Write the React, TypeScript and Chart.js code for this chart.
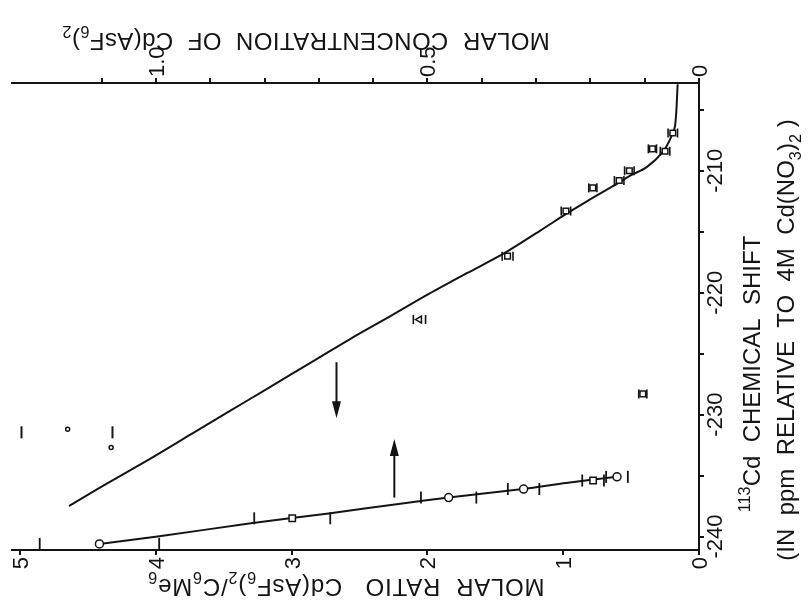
import React, { useEffect, useRef } from "react";
import { Chart, registerables } from "chart.js";
Chart.register(...registerables);

// ---- Upper curve: 113Cd shift vs molar ratio Cd(AsF6)2/C6Me6 (bottom axis) ----
const ratioCurveX = [0.157, 0.176, 0.208, 0.263, 0.385, 0.507, 0.593, 0.826, 0.973, 1.169, 1.44, 1.71, 1.99, 2.27, 2.57, 2.81, 3.2, 3.47, 3.74, 4.04, 4.4, 4.64];
const ratioCurveY = [-202.9, -206.3, -207.3, -208.4, -209.7, -210.4, -211.0, -212.5, -213.5, -214.9, -216.8, -218.4, -220.1, -221.9, -223.8, -225.4, -228.0, -229.8, -231.6, -233.6, -235.9, -237.5];

// measured points on the ratio curve (squares) with error in ratio
const ratioMarkX = [0.193, 0.25, 0.343, 0.513, 0.588, 0.782, 0.98, 1.41, 0.414];
const ratioMarkY = [-206.9, -208.4, -208.2, -210.0, -210.8, -211.4, -213.3, -217.0, -228.3];
const ratioMarkErr = [0.035, 0.035, 0.03, 0.035, 0.035, 0.03, 0.035, 0.04, 0.03];
const ratioTriX = [2.059];
const ratioTriY = [-222.2];
const ratioTriErr = [0.045];

// ---- Lower curve: shift vs molar concentration of Cd(AsF6)2 (top axis) ----
const concCurveX = [0.151, 0.245, 0.324, 0.461, 0.55, 0.682, 0.825, 0.997, 1.104];
const concCurveY = [-235.1, -235.6, -236.1, -236.8, -237.3, -238.1, -238.9, -240.0, -240.6];
const concCircleX = [0.151, 0.323, 0.461, 1.104];
const concCircleY = [-235.1, -236.1, -236.8, -240.6];
const concCircleErr = [0.02, 0.029, 0.051, 0.11];
const concSquareX = [0.195, 0.749];
const concSquareY = [-235.4, -238.5];
const concSquareErr = [0.02, 0.07];

// stray marks in the upper-left of the plot (ratio units)
const strayBarX = [4.99, 4.32];
const strayBarY = [-231.45, -231.45];
const strayDotX = [4.65, 4.33];
const strayDotY = [-231.2, -232.7];

// arrows
const arrowRatioX = [2.67];
const arrowRatioFrom = [-225.7];
const arrowRatioTo = [-230.3];
const arrowConcX = [0.561];
const arrowConcFrom = [-236.8];
const arrowConcTo = [-232.0];

// ticks / labels
const ratioTickValues = [0, 1, 2, 3, 4, 5];
const ratioTickLabels = ["0", "1", "2", "3", "4", "5"];
const concTickValues = [0, 0.5, 1.0];
const concTickLabels = ["0", "0.5", "1.0"];
const shiftTickValues = [-210, -220, -230, -240];
const shiftTickLabels = ["-210", "-220", "-230", "-240"];

const INK = "#141414";
const FONT_FAMILY = '"Liberation Sans", Arial, sans-serif';
const TICK_SIZE = 22;
const TITLE_SIZE = 24;

type Part = { t: string; sub?: boolean; sup?: boolean };

const topTitle: Part[] = [
  { t: "MOLAR  CONCENTRATION  OF  Cd(AsF" }, { t: "6", sub: true }, { t: ")" }, { t: "2", sub: true },
];
const bottomTitle: Part[] = [
  { t: "MOLAR  RATIO   Cd(AsF" }, { t: "6", sub: true }, { t: ")" }, { t: "2", sub: true },
  { t: "/C" }, { t: "6", sub: true }, { t: "Me" }, { t: "6", sub: true },
];
const rightTitle1: Part[] = [{ t: "113", sup: true }, { t: "Cd  CHEMICAL  SHIFT" }];
const rightTitle2: Part[] = [
  { t: "(IN  ppm  RELATIVE  TO  4M  Cd(NO" }, { t: "3", sub: true }, { t: ")" }, { t: "2", sub: true }, { t: " )" },
];

const font = (s: number) => `${s}px ${FONT_FAMILY}`;

function drawRich(ctx: CanvasRenderingContext2D, parts: Part[], x: number, y: number, rot: number, size: number, spacing: number) {
  ctx.save();
  ctx.translate(x, y);
  ctx.rotate(rot);
  ctx.textAlign = "left";
  ctx.textBaseline = "alphabetic";
  (ctx as any).letterSpacing = `${spacing}px`;
  let total = 0;
  for (const p of parts) {
    ctx.font = font(p.sub || p.sup ? size * 0.68 : size);
    total += ctx.measureText(p.t).width;
  }
  let cx = -total / 2;
  for (const p of parts) {
    const s = p.sub || p.sup ? size * 0.68 : size;
    ctx.font = font(s);
    const dy = p.sub ? size * 0.3 : p.sup ? -size * 0.42 : 0;
    ctx.fillText(p.t, cx, dy);
    cx += ctx.measureText(p.t).width;
  }
  ctx.restore();
}

function rotText(ctx: CanvasRenderingContext2D, text: string, x: number, y: number, rot: number, align: CanvasTextAlign) {
  ctx.save();
  ctx.translate(x, y);
  ctx.rotate(rot);
  ctx.textAlign = align;
  ctx.textBaseline = "alphabetic";
  ctx.fillText(text, 0, 0);
  ctx.restore();
}

function arrow(ctx: CanvasRenderingContext2D, x: number, y1: number, y2: number) {
  const dir = y2 > y1 ? 1 : -1;
  const head = 17;
  const half = 4.5;
  ctx.beginPath();
  ctx.moveTo(x, y1);
  ctx.lineTo(x, y2 - dir * head * 0.6);
  ctx.lineWidth = 2;
  ctx.strokeStyle = INK;
  ctx.stroke();
  ctx.beginPath();
  ctx.moveTo(x, y2);
  ctx.lineTo(x - half, y2 - dir * head);
  ctx.lineTo(x + half, y2 - dir * head);
  ctx.closePath();
  ctx.fillStyle = INK;
  ctx.fill();
}

const labelsPlugin = {
  id: "richLabels",
  afterDraw(chart: any) {
    const ctx: CanvasRenderingContext2D = chart.ctx;
    const xs = chart.scales.x;
    const x2 = chart.scales.x2;
    const ys = chart.scales.y;
    const halfCap = TICK_SIZE * 0.36;
    ctx.save();
    ctx.fillStyle = INK;
    ctx.font = font(TICK_SIZE);
    ratioTickValues.forEach((v, i) => {
      const px = xs.getPixelForValue(v);
      rotText(ctx, ratioTickLabels[i], px + halfCap, xs.top + 7, -Math.PI / 2, "right");
    });
    concTickValues.forEach((v, i) => {
      const px = x2.getPixelForValue(v);
      rotText(ctx, concTickLabels[i], px + halfCap, x2.bottom - 6, -Math.PI / 2, "left");
    });
    shiftTickValues.forEach((v, i) => {
      const py = ys.getPixelForValue(v);
      rotText(ctx, shiftTickLabels[i], ys.left + 23, py, -Math.PI / 2, "center");
    });
    // titles
    ctx.fillStyle = INK;
    drawRich(ctx, topTitle, 306, 33, Math.PI, TITLE_SIZE, 0.4);
    drawRich(ctx, bottomTitle, 346, 579, Math.PI, TITLE_SIZE, 0.8);
    drawRich(ctx, rightTitle1, 760, 374, -Math.PI / 2, TITLE_SIZE, 0);
    drawRich(ctx, rightTitle2, 794, 340, -Math.PI / 2, TITLE_SIZE, 0);
    // arrows
    arrowRatioX.forEach((v, i) => {
      arrow(ctx, xs.getPixelForValue(v), ys.getPixelForValue(arrowRatioFrom[i]), ys.getPixelForValue(arrowRatioTo[i]));
    });
    arrowConcX.forEach((v, i) => {
      arrow(ctx, x2.getPixelForValue(v), ys.getPixelForValue(arrowConcFrom[i]), ys.getPixelForValue(arrowConcTo[i]));
    });
    ctx.restore();
  },
};

const pts = (xs: number[], ys: number[]) => xs.map((x, i) => ({ x, y: ys[i] }));
const caps = (xs: number[], ys: number[], err: number[]) =>
  xs.flatMap((x, i) => [{ x: x - err[i], y: ys[i] }, { x: x + err[i], y: ys[i] }]);

export default function App() {
  const ref = useRef<HTMLCanvasElement | null>(null);
  useEffect(() => {
    if (!ref.current) return;
    const axisCommon = {
      type: "linear" as const,
      grid: { drawOnChartArea: false, drawTicks: true, tickLength: 5, color: INK, lineWidth: 2 },
      border: { display: true, color: INK, width: 2 },
    };
    const chart = new Chart(ref.current, {
      type: "scatter",
      data: {
        datasets: [
          {
            data: pts(ratioMarkX, ratioMarkY), xAxisID: "x", yAxisID: "y", order: 0,
            pointStyle: "rect", pointRadius: 4, backgroundColor: "#fff", borderColor: INK, borderWidth: 1.5,
          },
          {
            data: pts(ratioTriX, ratioTriY), xAxisID: "x", yAxisID: "y", order: 0,
            pointStyle: "triangle", rotation: 270, pointRadius: 4, backgroundColor: "#fff", borderColor: INK, borderWidth: 1.5,
          },
          {
            data: caps(ratioMarkX.concat(ratioTriX), ratioMarkY.concat(ratioTriY), ratioMarkErr.concat(ratioTriErr)),
            xAxisID: "x", yAxisID: "y", order: 0,
            pointStyle: "line", rotation: 90, pointRadius: 4.5, borderColor: INK, borderWidth: 1.6,
          },
          {
            data: pts(concCircleX, concCircleY), xAxisID: "x2", yAxisID: "y", order: 0,
            pointStyle: "circle", pointRadius: 4, backgroundColor: "#fff", borderColor: INK, borderWidth: 1.5,
          },
          {
            data: pts(concSquareX, concSquareY), xAxisID: "x2", yAxisID: "y", order: 0,
            pointStyle: "rect", pointRadius: 4.5, backgroundColor: "#fff", borderColor: INK, borderWidth: 1.5,
          },
          {
            data: caps(concCircleX.concat(concSquareX), concCircleY.concat(concSquareY), concCircleErr.concat(concSquareErr)),
            xAxisID: "x2", yAxisID: "y", order: 0,
            pointStyle: "line", rotation: 90, pointRadius: 6, borderColor: INK, borderWidth: 1.8,
          },
          {
            data: pts(strayBarX, strayBarY), xAxisID: "x", yAxisID: "y", order: 0,
            pointStyle: "line", rotation: 90, pointRadius: 6, borderColor: INK, borderWidth: 2,
          },
          {
            data: pts(strayDotX, strayDotY), xAxisID: "x", yAxisID: "y", order: 0,
            pointStyle: "circle", pointRadius: 2, backgroundColor: "#fff", borderColor: INK, borderWidth: 1.5,
          },
          {
            data: pts(ratioCurveX, ratioCurveY), xAxisID: "x", yAxisID: "y", order: 2,
            showLine: true, pointRadius: 0, borderColor: INK, borderWidth: 2, tension: 0.3, fill: false,
          },
          {
            data: pts(concCurveX, concCurveY), xAxisID: "x2", yAxisID: "y", order: 2,
            showLine: true, pointRadius: 0, borderColor: INK, borderWidth: 2, tension: 0.2, fill: false,
          },
        ],
      },
      options: {
        responsive: false,
        animation: false,
        devicePixelRatio: 1,
        layout: { padding: { left: 12, right: 0, top: 0, bottom: 0 } },
        plugins: { legend: { display: false }, tooltip: { enabled: false } },
        scales: {
          x: {
            ...axisCommon,
            position: "bottom",
            reverse: true,
            min: 0,
            max: 5.06,
            ticks: { stepSize: 1, includeBounds: false, display: false },
            afterFit: (s: any) => { s.height = 58; },
          },
          x2: {
            ...axisCommon,
            position: "top",
            reverse: true,
            min: 0,
            max: 1.265,
            ticks: { stepSize: 0.1, includeBounds: false, display: false },
            afterBuildTicks: (s: any) => { s.ticks = s.ticks.filter((t: any) => t.value <= 1.1001); },
            afterFit: (s: any) => { s.height = 83; },
          },
          y: {
            ...axisCommon,
            position: "right",
            min: -241.1,
            max: -202.8,
            ticks: { stepSize: 5, includeBounds: false, display: false },
            afterFit: (s: any) => { s.width = 109; },
          },
        },
      } as any,
      plugins: [labelsPlugin],
    });
    return () => chart.destroy();
  }, []);
  return (
    <div style={{ position: "fixed", left: 0, top: 0, width: 808, height: 608, background: "#fff" }}>
      <canvas ref={ref} width={808} height={608} style={{ display: "block" }} />
    </div>
  );
}
